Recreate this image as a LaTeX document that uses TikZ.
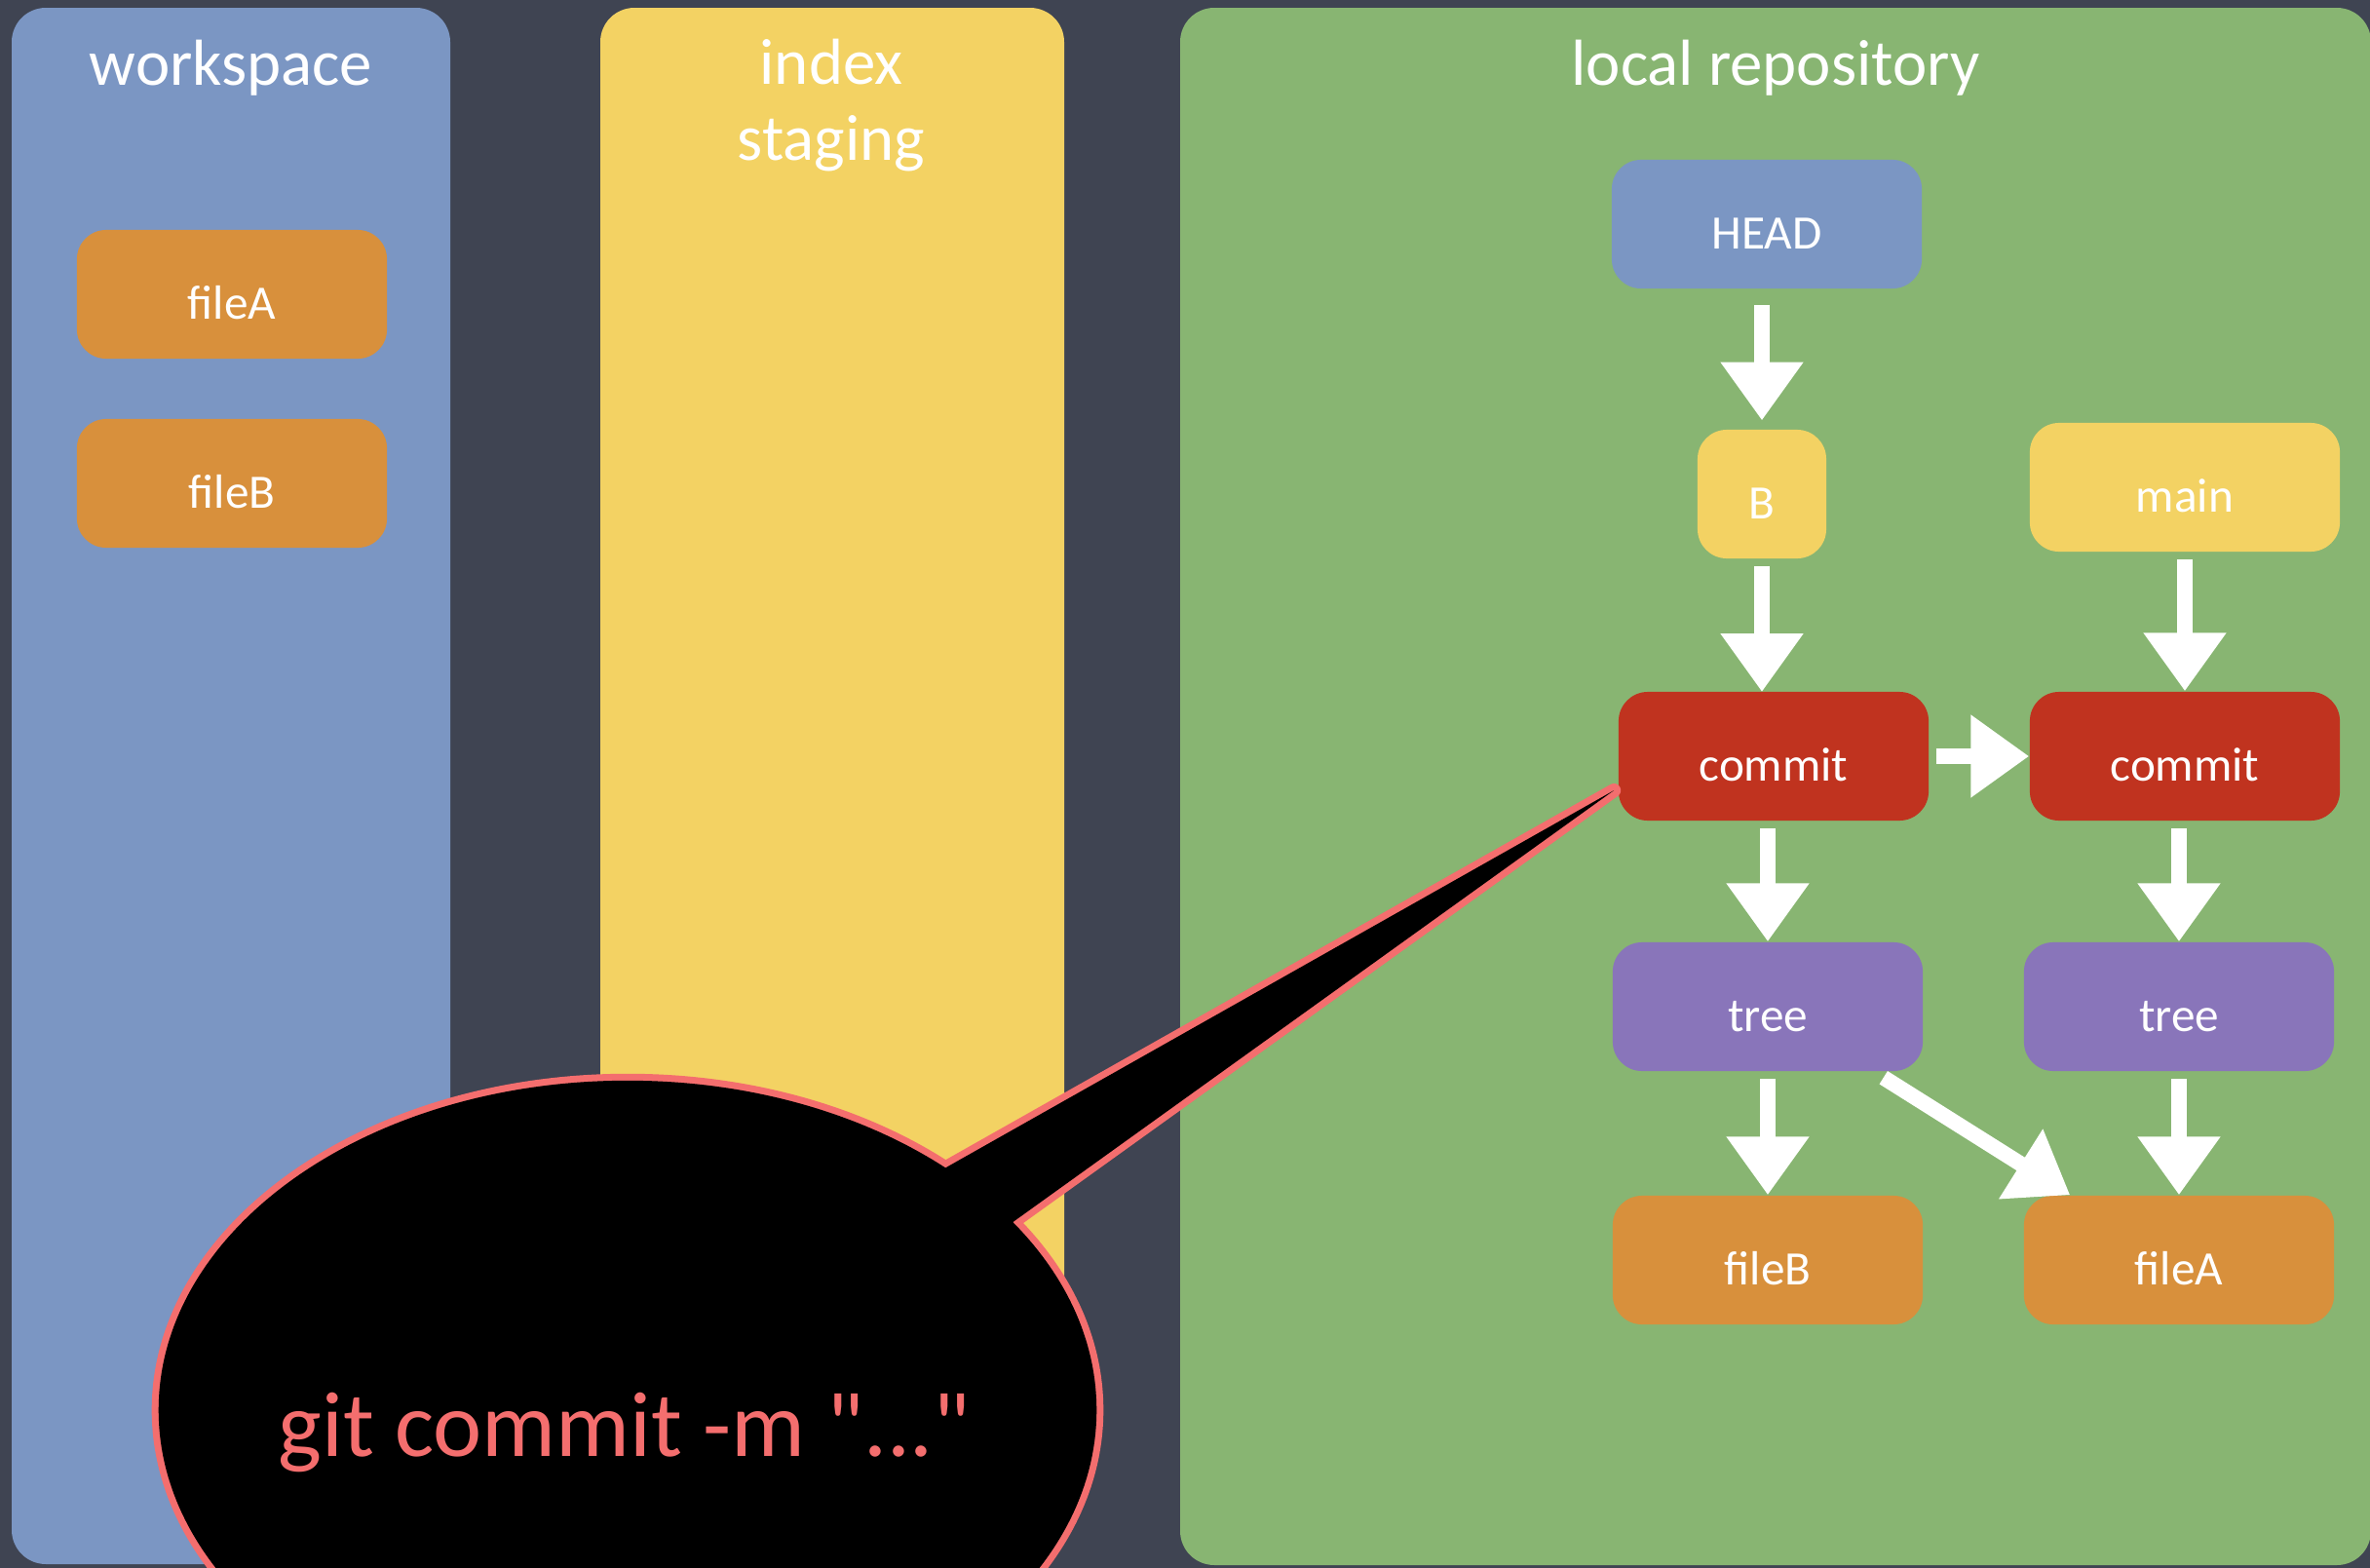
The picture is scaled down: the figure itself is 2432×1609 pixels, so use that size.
\documentclass[tikz,border=0pt]{standalone}
\usepackage{fontspec}
\setmainfont{Carlito}
\newfontfamily\cmdfont{Carlito}[Ligatures=TeXOff]
\usetikzlibrary{arrows.meta}
\definecolor{board}{HTML}{3F4452}
\definecolor{wsblue}{HTML}{7B96C3}
\definecolor{idxyellow}{HTML}{F3D263}
\definecolor{repogreen}{HTML}{88B572}
\definecolor{fileorange}{HTML}{D8903C}
\definecolor{commitred}{HTML}{C0331F}
\definecolor{treepurple}{HTML}{8975BA}
\definecolor{chalkred}{HTML}{F46E6E}
\tikzset{
	area/.style = {
		rounded corners=0.35cm
	},
	title/.style = {
		text=white,
		align=center,
		font=\fontsize{19}{22}\selectfont
	},
	obj/.style = {
		shape=rectangle,
		rounded corners=0.3cm,
		minimum width=3.18cm,
		minimum height=1.32cm,
		inner sep=0pt,
		text height=14.5pt,
		text depth=0pt,
		text=white,
		font=\fontsize{14}{16}\selectfont
	},
	chalk/.style = {
		draw=white,
		line width=4.5pt,
		shorten <=2pt,
		-{Triangle[length=17pt,width=23pt]}
	},
	bubbleline/.style = {
		draw=chalkred,
		line width=4pt,
		line join=round
	}
}

\begin{document}
\begin{tikzpicture}[x=0.01cm, y=-0.01cm]
		\clip (0,0) rectangle (2432,1609);
		\fill[board] (0,0) rectangle (2432,1609);
		\fill[area, wsblue] (12,8) rectangle (462,1605);
		\fill[area, idxyellow] (616,8) rectangle (1092,1605);
		\fill[area, repogreen] (1211,8) rectangle (2433,1606);
		\node[title] (ws) at (237,70) {workspace};
		\node[title] (idx) at (853,108) {index\\staging};
		\node[title] (repo) at (1822,70) {local repository};
		\node[obj, fill=fileorange] (wsA) at (238,302) {fileA};
		\node[obj, fill=fileorange] (wsB) at (238,496) {fileB};
		\node[obj, fill=wsblue] (head) at (1813,230) {HEAD};
		\node[obj, fill=idxyellow, minimum width=1.32cm] (b) at (1808,507) {B};
		\node[obj, fill=idxyellow] (main) at (2242,500) {main};
		\node[obj, fill=commitred] (commit1) at (1820,776) {commit};
		\node[obj, fill=commitred] (commit2) at (2242,776) {commit};
		\node[obj, fill=treepurple] (tree1) at (1814,1033) {tree};
		\node[obj, fill=treepurple] (tree2) at (2236,1033) {tree};
		\node[obj, fill=fileorange] (fileB) at (1814,1293) {fileB};
		\node[obj, fill=fileorange] (fileA) at (2236,1293) {fileA};
		\draw[chalk, shorten <=4.5pt, shorten >=2.5pt] (1808,297) -- (b);
		\draw[chalk] (b) -- (1808,710);
		\draw[chalk] (main) -- (main |- commit2.north);
		\draw[chalk] (commit1) -- (commit2);
		\draw[chalk] (commit1.south -| tree1) -- (tree1);
		\draw[chalk] (commit2.south -| tree2) -- (tree2);
		\draw[chalk] (tree1) -- (fileB);
		\draw[chalk] (tree2) -- (fileA);
		\draw[chalk, shorten <=0pt] ([xshift=-0.41cm,yshift=-0.06cm]tree1.south east) -- ([xshift=0.48cm]fileA.north west);
		\coordinate (tip) at ([xshift=-0.04cm,yshift=-0.35cm]commit1.west);
		\draw[bubbleline] (644,1447) ellipse [x radius=4.81cm, y radius=3.38cm];
		\draw[bubbleline] (900,1238) -- (tip) -- (974,1301) -- cycle;
		\fill[black] (644,1447) ellipse [x radius=4.81cm, y radius=3.38cm];
		\fill[black] (900,1238) -- (tip) -- (974,1301) -- cycle;
		\node[text=chalkred, font=\cmdfont\fontsize{27}{30}\selectfont] (cmd) at (641,1470) {git commit -m "..."};
\end{tikzpicture}
\end{document}
